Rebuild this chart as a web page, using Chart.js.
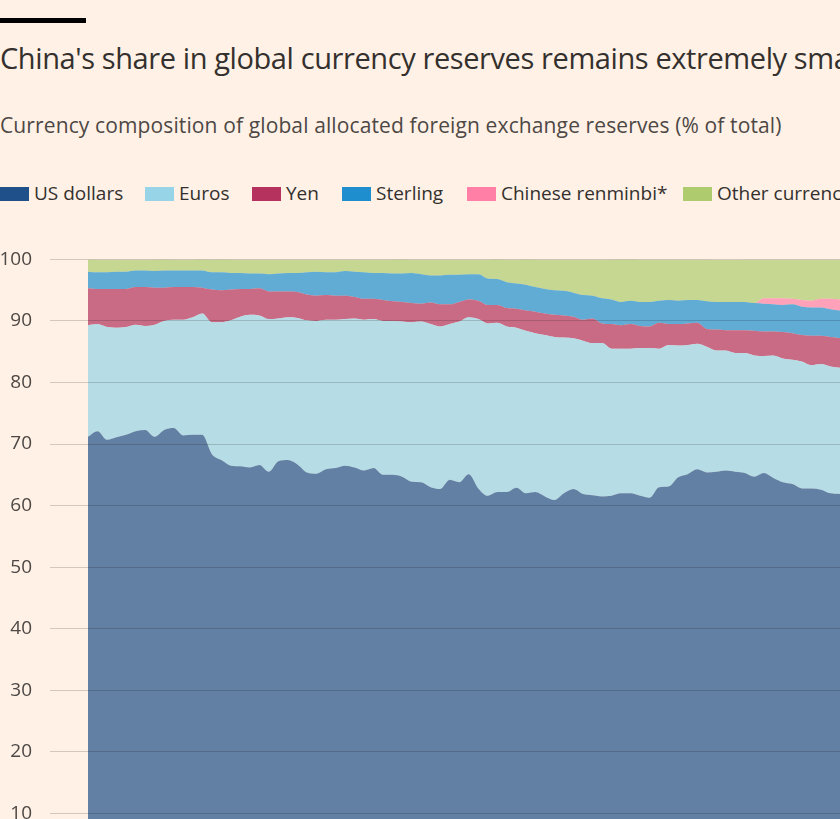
<!DOCTYPE html>
<html>
<head>
<meta charset="utf-8">
<script src="https://cdn.jsdelivr.net/npm/chart.js@4.4.1/dist/chart.umd.min.js"></script>
<style>
  html, body { margin: 0; padding: 0; background: #fff1e5; overflow: hidden; width: 840px; height: 819px; }
  body { position: relative; font-family: 'Open Sans', sans-serif; }
  .bar { position: absolute; left: 0; top: 18px; width: 86px; height: 5px; background: #000; }
  .title { position: absolute; left: 0; top: 43px; font-size: 29px; line-height: 30px; letter-spacing: -0.4px; color: #33302e; white-space: nowrap; }
  .subtitle { position: absolute; left: 0; top: 114px; font-size: 21px; line-height: 22px; letter-spacing: 0.12px; color: #4d4845; white-space: nowrap; }
  .legend { position: absolute; left: 0; top: 182px; width: 840px; height: 22px; }
  .item { position: absolute; top: 0; white-space: nowrap; font-size: 19px; line-height: 22px; color: #33302e; }
  .item span { display: inline-block; width: 29px; height: 14px; margin-right: 5px; vertical-align: -1px; }
  .wrap { position: absolute; left: 0; top: 230px; width: 840px; height: 700px; }
</style>
</head>
<body>
<div class="bar"></div>
<div class="title">China's share in global currency reserves remains extremely small</div>
<div class="subtitle">Currency composition of global allocated foreign exchange reserves (% of total)</div>
<div class="legend" id="legend"></div>
<div class="wrap"><canvas id="grafica"></canvas></div>
<script>
// quarters 1999 Q1 .. 2018 Q4
const quarters = [];
for (let y = 1999; y <= 2018; y++) {
    for (let q = 1; q <= 4; q++) quarters.push(y + ' Q' + q);
}

const series = ['US dollars', 'Euros', 'Yen', 'Sterling', 'Chinese renminbi*', 'Other currencies'];
const colores = ['#1f5089', '#97d4e7', '#b4325d', '#1e8ece', '#ff7fa6', '#aecc6e'];

const usd = [71.2, 72.1, 70.7, 71.1, 71.5, 72.1, 72.3, 71.2, 72.3, 72.6,
    71.4, 71.5, 71.5, 68.4, 67.4, 66.5, 66.4, 66.2, 66.6, 65.5,
    67.2, 67.4, 66.7, 65.4, 65.2, 65.9, 66.1, 66.5, 66.2, 65.7,
    66.1, 65.0, 65.0, 64.7, 63.9, 63.8, 63.0, 62.7, 64.2, 63.8,
    65.1, 62.8, 61.6, 62.2, 62.2, 62.9, 62.0, 62.2, 61.5, 60.9,
    62.0, 62.7, 61.9, 61.7, 61.5, 61.6, 62.0, 62.0, 61.6, 61.3,
    63.0, 63.1, 64.6, 65.1, 65.9, 65.4, 65.5, 65.7, 65.5, 65.3,
    64.7, 65.3, 64.5, 63.8, 63.5, 62.8, 62.8, 62.6, 62.0, 61.9];

const eur = [18.1, 17.4, 18.3, 17.8, 17.5, 17.3, 16.9, 18.2, 17.7, 17.6,
    18.8, 19.1, 19.7, 21.4, 22.4, 23.6, 24.3, 24.8, 24.3, 24.8,
    23.2, 23.2, 23.8, 24.7, 24.8, 24.3, 24.1, 23.8, 24.2, 24.5,
    24.2, 25.0, 25.0, 25.2, 25.9, 26.1, 26.5, 26.4, 25.3, 26.1,
    25.5, 27.5, 28.0, 27.5, 26.9, 26.0, 26.4, 25.8, 26.2, 26.5,
    25.3, 24.5, 24.9, 24.7, 24.9, 23.9, 23.5, 23.5, 24.0, 24.3,
    22.5, 23.0, 21.4, 21.0, 20.4, 20.4, 19.7, 19.5, 19.3, 19.5,
    19.7, 19.0, 19.9, 20.1, 20.2, 20.6, 20.0, 20.4, 20.6, 20.5];

const jpy = [6.0, 5.7, 6.2, 6.3, 6.2, 6.1, 6.3, 6.0, 5.4, 5.3,
    5.3, 4.9, 4.2, 5.3, 5.2, 5.0, 4.5, 4.2, 4.4, 4.5,
    4.4, 4.2, 4.2, 4.2, 4.1, 4.0, 3.9, 3.8, 3.5, 3.4,
    3.3, 3.4, 3.2, 3.2, 3.1, 2.9, 3.5, 3.6, 3.2, 3.2,
    2.9, 3.0, 3.0, 2.9, 3.0, 3.1, 3.3, 3.5, 3.5, 3.6,
    3.6, 3.5, 3.4, 4.0, 3.2, 4.0, 3.8, 4.0, 3.6, 3.5,
    4.2, 3.4, 3.5, 3.5, 3.4, 2.9, 3.4, 3.3, 3.7, 3.7,
    4.0, 4.0, 3.9, 4.3, 4.3, 4.3, 4.8, 4.6, 4.8, 4.8];

const gbp = [2.7, 2.7, 2.7, 2.8, 2.8, 2.7, 2.7, 2.7, 2.8, 2.7,
    2.7, 2.7, 2.8, 2.8, 2.9, 2.7, 2.6, 2.5, 2.4, 2.8,
    2.9, 3.0, 3.1, 3.6, 3.9, 3.7, 3.8, 4.0, 4.1, 4.3,
    4.2, 4.4, 4.5, 4.6, 4.9, 4.8, 4.4, 4.7, 4.8, 4.4,
    4.1, 4.3, 4.3, 4.2, 4.2, 4.1, 4.2, 4.0, 4.0, 4.0,
    4.0, 3.9, 4.0, 3.7, 4.1, 4.0, 3.8, 3.8, 3.9, 4.0,
    3.6, 3.9, 3.8, 3.8, 3.7, 4.5, 4.5, 4.6, 4.6, 4.6,
    4.5, 4.5, 4.4, 4.4, 4.7, 4.6, 4.6, 4.6, 4.5, 4.5];

// renminbi only reported from 2016 Q4
const cny = [0, 0, 0, 0, 0, 0, 0, 0, 0, 0,
    0, 0, 0, 0, 0, 0, 0, 0, 0, 0,
    0, 0, 0, 0, 0, 0, 0, 0, 0, 0,
    0, 0, 0, 0, 0, 0, 0, 0, 0, 0,
    0, 0, 0, 0, 0, 0, 0, 0, 0, 0,
    0, 0, 0, 0, 0, 0, 0, 0, 0, 0,
    0, 0, 0, 0, 0, 0, 0, 0, 0, 0,
    0, 0.9, 1.0, 1.1, 0.9, 1.1, 1.1, 1.4, 1.7, 1.8];

const otras = [2.1, 2.1, 2.1, 2.0, 2.0, 1.8, 1.8, 1.9, 1.9, 1.8,
    1.8, 1.8, 1.9, 2.1, 2.2, 2.2, 2.2, 2.3, 2.3, 2.4,
    2.3, 2.2, 2.2, 2.1, 2.0, 2.1, 2.1, 1.9, 2.0, 2.1,
    2.2, 2.2, 2.3, 2.4, 2.2, 2.4, 2.6, 2.6, 2.5, 2.5,
    2.4, 2.4, 3.1, 3.3, 3.7, 3.9, 4.2, 4.5, 4.8, 5.0,
    5.1, 5.4, 5.8, 5.9, 6.3, 6.5, 7.0, 6.8, 6.9, 6.9,
    6.7, 6.6, 6.7, 6.6, 6.6, 6.8, 6.8, 6.8, 6.8, 6.9,
    7.1, 6.3, 6.3, 6.3, 6.4, 6.6, 6.7, 6.4, 6.4, 6.5];

const yTicks = [0, 10, 20, 30, 40, 50, 60, 70, 80, 90, 100];

const valores = [usd, eur, jpy, gbp, cny, otras];

// leyenda en HTML (se corta en el borde como el original)
const posLeyenda = [0, 145, 252, 342, 467, 683];
const leyenda = document.getElementById('legend');
series.forEach((nombre, i) => {
    const item = document.createElement('div');
    item.className = 'item';
    item.style.left = posLeyenda[i] + 'px';
    item.innerHTML = '<span style="background:' + colores[i] + '"></span>' + nombre;
    leyenda.appendChild(item);
});

function alpha(hex, a) {
    const n = parseInt(hex.slice(1), 16);
    return 'rgba(' + (n >> 16) + ',' + ((n >> 8) & 255) + ',' + (n & 255) + ',' + a + ')';
}

const ctx = document.getElementById('grafica');
new Chart(ctx, {
    type: 'line',
    data: {
        labels: quarters,
        datasets: series.map((nombre, i) => ({
            label: nombre,
            data: valores[i],
            backgroundColor: alpha(colores[i], 0.7),
            borderWidth: 0,
            pointRadius: 0,
            fill: i === 0 ? 'origin' : '-1',
            cubicInterpolationMode: 'monotone'
        }))
    },
    options: {
        responsive: true,
        maintainAspectRatio: false,
        animation: false,
        layout: { padding: { top: 0, bottom: 55, left: 0, right: 0 } },
        scales: {
            x: { display: false },
            y: {
                stacked: true,
                min: 0,
                max: 100,
                afterBuildTicks: (s) => { s.ticks = yTicks.map(v => ({ value: v })); },
                afterFit: (s) => { s.width = 88; },
                border: { display: false },
                grid: { color: 'rgba(0,0,0,0.17)', tickLength: 38, z: 1 },
                ticks: {
                    padding: 18,
                    color: '#4d4845',
                    font: { family: 'Open Sans', size: 19 }
                }
            }
        },
        plugins: {
            legend: { display: false },
            tooltip: { enabled: false }
        }
    }
});
</script>
</body>
</html>
